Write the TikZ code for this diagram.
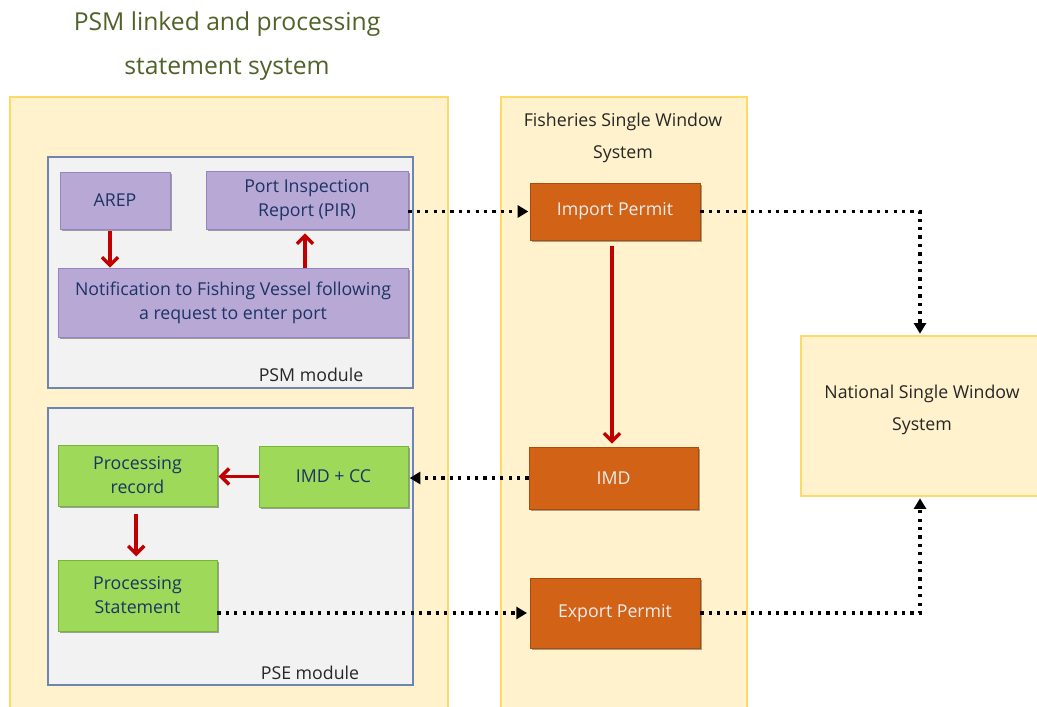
\documentclass[tikz,border=0pt]{standalone}
\usepackage{fontspec}
\setmainfont{Open Sans}
\usetikzlibrary{arrows.meta,shadows}
\definecolor{panelfill}{HTML}{FFF2CC}
\definecolor{paneldraw}{HTML}{FFD966}
\definecolor{modfill}{HTML}{F2F2F2}
\definecolor{moddraw}{HTML}{6F85AE}
\definecolor{purp}{RGB}{184,168,214}
\definecolor{purpd}{RGB}{150,132,190}
\definecolor{grn}{RGB}{158,217,90}
\definecolor{grnd}{RGB}{120,180,60}
\definecolor{org}{RGB}{210,98,22}
\definecolor{orgd}{RGB}{170,75,15}
\definecolor{navy}{RGB}{28,52,100}
\definecolor{titlegreen}{RGB}{79,98,40}
\definecolor{darkred}{HTML}{C00000}
\definecolor{txt}{RGB}{38,38,38}
\tikzset{
  panel/.style={draw=paneldraw, fill=panelfill, line width=0.8pt, inner sep=0pt},
  module/.style={draw=moddraw, fill=modfill, line width=0.8pt, inner sep=0pt},
  boxbase/.style={line width=0.5pt, align=center, inner sep=0pt,
     font=\fontsize{13.3}{18}\selectfont,
     drop shadow={shadow xshift=1.5pt, shadow yshift=-1.5pt, opacity=0.35, fill=black}},
  purpbox/.style={boxbase, fill=purp, draw=purpd, text=navy},
  grnbox/.style={boxbase, fill=grn, draw=grnd, text=navy},
  orgbox/.style={boxbase, fill=org, draw=orgd, text=white!93!black},
  redarrow/.style={draw=darkred, line width=2.6pt, -{Straight Barb[length=6pt,width=12pt]}},
  dotarrow/.style={draw=black, line width=2.5pt, dash pattern=on 2.5pt off 3.8pt,
     -{Triangle[length=8pt,width=9pt]}},
  lbl/.style={text=txt, font=\fontsize{13.3}{18}\selectfont, align=center, inner sep=0pt},
}
\begin{document}
\begin{tikzpicture}[x=0.75pt,y=-0.75pt]
\useasboundingbox (0,0) rectangle (1037,706);
% panels
\node[panel, minimum width=328.5pt, minimum height=459pt] (left) at (229,403) {};
\node[panel, minimum width=184.5pt, minimum height=459pt] (mid) at (624,403) {};
\path[fill=panelfill] (801,336) rectangle (1045,496);
\draw[paneldraw, line width=0.8pt] (1045,336) -- (801,336) -- (801,496) -- (1045,496);
\node[inner sep=0pt, minimum width=177pt, minimum height=120pt] (nsw) at (920,416) {};
\node[lbl, font=\fontsize{13.3}{23.5}\selectfont] (nswlbl) at (922,410) {National Single Window\\System};
\node[lbl, font=\fontsize{13.3}{23.5}\selectfont] (fswlbl) at (623,138) {Fisheries Single Window\\System};
% title
\node[text=titlegreen, font=\fontsize{18.5}{33}\selectfont, align=center, inner sep=0pt] (title) at (227,46) {PSM linked and processing\\statement system};
% modules
\node[module, minimum width=273.75pt, minimum height=173.25pt] (psm) at (230.5,272.5) {};
\node[module, minimum width=273.75pt, minimum height=207.75pt] (pse) at (230.5,546.5) {};
\node[lbl] (psmlbl) at (311,375) {PSM module};
\node[lbl] (pselbl) at (310,673) {PSE module};
% PSM boxes
\node[purpbox, minimum width=82.5pt, minimum height=42.75pt] (arep) at (115,200.5) {AREP};
\node[purpbox, minimum width=151.5pt, minimum height=43.5pt] (pir) at (307,200) {Port Inspection\\Report (PIR)};
\node[purpbox, minimum width=262.5pt, minimum height=51.75pt] (notif) at (233,302.5) {Notification to Fishing Vessel following\\a request to enter port};
% PSE boxes
\node[grnbox, minimum width=119.25pt, minimum height=45.75pt] (prec) at (137.5,475.5) {Processing\\record};
\node[grnbox, minimum width=111.75pt, minimum height=45.75pt] (imdcc) at (333.5,476.5) {IMD + CC};
\node[grnbox, minimum width=119.25pt, minimum height=53.25pt] (pstmt) at (137.5,595.5) {Processing\\Statement};
% FSW boxes
\node[orgbox, minimum width=127.5pt, minimum height=42.75pt] (imp) at (615,211.5) {Import Permit};
\node[orgbox, minimum width=126.75pt, minimum height=46.5pt] (imd) at (613.5,478) {IMD};
\node[orgbox, minimum width=127.5pt, minimum height=52.5pt] (exp) at (615,613) {Export Permit};
% red arrows
\draw[redarrow] ([xshift=-3.75pt,yshift=-1.5pt]arep.south) -- ([xshift=-3.75pt]arep.south |- notif.north);
\draw[redarrow] ([xshift=-1.5pt]pir.south |- notif.north) -- ([xshift=-1.5pt,yshift=-3pt]pir.south);
\draw[redarrow] ([xshift=-2.25pt,yshift=-4.5pt]imp.south) -- ([xshift=-2.25pt,yshift=2.25pt]imp.south |- imd.north);
\draw[redarrow] (imdcc.west) -- ([xshift=1pt]prec.east |- imdcc.west);
\draw[redarrow] ([xshift=-1pt,yshift=-6pt]prec.south) -- ([xshift=-1pt,yshift=2.5pt]prec.south |- pstmt.north);
% dotted connectors
\draw[dotarrow] (pir.east |- imp.west) -- ([xshift=-1pt]imp.west);
\draw[dotarrow] (imp.east) -| ([yshift=1.5pt]nsw.north);
\draw[dotarrow] (imd.west) -- ([xshift=1pt]imdcc.east |- imd.west);
\draw[dotarrow] (pstmt.east |- exp.west) -- ([xshift=-2pt]exp.west);
\draw[dotarrow] (exp.east) -| ([yshift=-1.5pt]nsw.south);
\end{tikzpicture}
\end{document}
